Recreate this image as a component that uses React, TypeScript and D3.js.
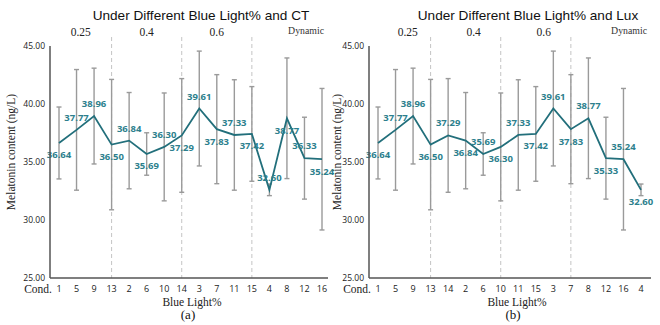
import React from "react";
import * as d3 from "d3";

// ---------- data ----------
const condsCT = ["1", "5", "9", "13", "2", "6", "10", "14", "3", "7", "11", "15", "4", "8", "12", "16"];
const meansCT = [36.64, 37.77, 38.96, 36.5, 36.84, 35.69, 36.3, 37.29, 39.61, 37.83, 37.33, 37.42, 32.6, 38.77, 35.33, 35.24];
const labelsCT = ["36.64", "37.77", "38.96", "36.50", "36.84", "35.69", "36.30", "37.29", "39.61", "37.83", "37.33", "37.42", "32.60", "38.77", "36.33", "35.24"];
const posCT = ["b", "a", "a", "b", "a", "b", "a", "b", "a", "b", "a", "b", "a", "b", "a", "b"];

const condsLux = ["1", "5", "9", "13", "14", "2", "6", "10", "11", "15", "3", "7", "8", "12", "16", "4"];
const meansLux = [36.64, 37.77, 38.96, 36.5, 37.29, 36.84, 35.69, 36.3, 37.33, 37.42, 39.61, 37.83, 38.77, 35.33, 35.24, 32.6];
const labelsLux = ["36.64", "37.77", "38.96", "36.50", "37.29", "36.84", "35.69", "36.30", "37.33", "37.42", "39.61", "37.83", "38.77", "35.33", "35.24", "32.60"];
const posLux = ["b", "a", "a", "b", "a", "b", "a", "b", "a", "b", "a", "b", "a", "b", "a", "b"];

// standard deviation per condition id
const sdByCond: Record<string, number> = {
  "1": 3.1, "5": 5.2, "9": 4.13, "13": 5.62, "2": 4.15, "6": 1.83, "10": 4.65, "14": 4.9,
  "3": 4.95, "7": 4.7, "11": 4.76, "15": 4.08, "4": 0.5, "8": 5.2, "12": 3.53, "16": 6.1,
};

const groupLabels = ["0.25", "0.4", "0.6"];
const yTicks = [25, 30, 35, 40, 45];

// ---------- styles ----------
const TEAL = "#226f7b";
const LABEL = "#2d7f8d";
const ERR = "#9a9a9a";
const AXIS = "#555";
const SANS = "'Open Sans', 'Noto Sans', sans-serif";
const SERIF = "'Liberation Serif', 'DejaVu Serif', serif";

type PanelProps = {
  title: string;
  conds: string[];
  means: number[];
  labels: string[];
  pos: string[];
  axisX: number;
  firstX: number;
  lastX: number;
  endX: number;
  groupShift: number;
  letter: string;
  titleX: number;
  yLabelX: number;
  xLabelX: number;
};

function Panel(p: PanelProps) {
  const y = d3.scaleLinear().domain([25, 45]).range([278, 46]);
  const x = d3.scalePoint<number>().domain(d3.range(p.conds.length)).range([p.firstX, p.lastX]);
  const line = d3
    .line<number>()
    .x((_, i) => x(i) as number)
    .y((d) => y(d));
  const dashIdx = [3, 7, 11];
  const dashX = dashIdx.map((i) => x(i) as number);
  const bounds = [p.axisX, ...dashX];
  return (
    <g>
      <text x={p.titleX} y={20} textAnchor="middle" fontFamily="'Liberation Sans', Arial, sans-serif" fontSize={13.6} fill="#111">
        {p.title}
      </text>
      {groupLabels.map((g, i) => (
        <text key={g} x={(bounds[i] + bounds[i + 1]) / 2 + p.groupShift} y={36} textAnchor="middle" fontFamily={SERIF} fontSize={11.5} fill="#222">
          {g}
        </text>
      ))}
      <text x={p.endX - 4} y={34} textAnchor="end" fontFamily={SERIF} fontSize={9.8} fill="#333">
        Dynamic
      </text>
      {dashX.map((dx, i) => (
        <line key={i} x1={dx} x2={dx} y1={37} y2={278} stroke="#c4c4c4" strokeWidth={1} strokeDasharray="4,3" />
      ))}
      {/* error bars */}
      {p.conds.map((c, i) => {
        const sd = sdByCond[c];
        const cx = x(i) as number;
        const y1 = y(p.means[i] + sd);
        const y2 = y(p.means[i] - sd);
        return (
          <g key={c} stroke={ERR} strokeWidth={1.4}>
            <line x1={cx} x2={cx} y1={y1} y2={y2} />
            <line x1={cx - 2.5} x2={cx + 2.5} y1={y1} y2={y1} />
            <line x1={cx - 2.5} x2={cx + 2.5} y1={y2} y2={y2} />
          </g>
        );
      })}
      <path d={line(p.means) || ""} fill="none" stroke={TEAL} strokeWidth={1.8} />
      {p.means.map((m, i) => (
        <text
          key={i}
          x={x(i) as number}
          y={y(m) + (p.pos[i] === "a" ? -9 : 15.5)}
          textAnchor="middle"
          fontFamily={SANS}
          fontWeight={700}
          fontSize={9.5}
          fill={LABEL}
        >
          {p.labels[i]}
        </text>
      ))}
      {/* axes */}
      <line x1={p.axisX} x2={p.axisX} y1={46} y2={278} stroke={AXIS} strokeWidth={1.5} />
      <line x1={p.axisX} x2={p.endX} y1={278} y2={278} stroke={AXIS} strokeWidth={1.5} />
      {yTicks.map((t) => (
        <text key={t} x={p.axisX - 5} y={y(t) + 3} textAnchor="end" fontFamily={SANS} fontSize={8.5} fill="#222">
          {t.toFixed(2)}
        </text>
      ))}
      {p.conds.map((c, i) => (
        <text key={c} x={x(i) as number} y={292} textAnchor="middle" fontFamily={SANS} fontSize={9} fill="#222">
          {c}
        </text>
      ))}
      <text x={p.axisX + 2} y={293} textAnchor="end" fontFamily={SERIF} fontSize={11.5} fill="#222">
        Cond.
      </text>
      <text x={p.xLabelX} y={306} textAnchor="middle" fontFamily={SERIF} fontSize={11.5} fill="#222">
        Blue Light%
      </text>
      <text x={p.xLabelX - 4} y={319} textAnchor="middle" fontFamily={SERIF} fontSize={13} fill="#111">
        {p.letter}
      </text>
      <text
        transform={`translate(${p.yLabelX},152) rotate(-90)`}
        textAnchor="middle"
        fontFamily={SERIF}
        fontSize={11.5}
        fill="#222"
      >
        Melatonin content (ng/L)
      </text>
    </g>
  );
}

export default function App() {
  return (
    <svg width={660} height={325} style={{ position: "absolute", left: 0, top: 0, background: "#fff" }}>
      <Panel
        title="Under Different Blue Light% and CT"
        conds={condsCT}
        means={meansCT}
        labels={labelsCT}
        pos={posCT}
        axisX={50}
        firstX={59}
        lastX={322}
        endX={328}
        groupShift={0}
        letter="(a)"
        titleX={201}
        yLabelX={15}
        xLabelX={192}
      />
      <Panel
        title="Under Different Blue Light% and Lux"
        conds={condsLux}
        means={meansLux}
        labels={labelsLux}
        pos={posLux}
        axisX={369}
        firstX={378}
        lastX={641}
        endX={651}
        groupShift={8}
        letter="(b)"
        titleX={528}
        yLabelX={341}
        xLabelX={517}
      />
    </svg>
  );
}
